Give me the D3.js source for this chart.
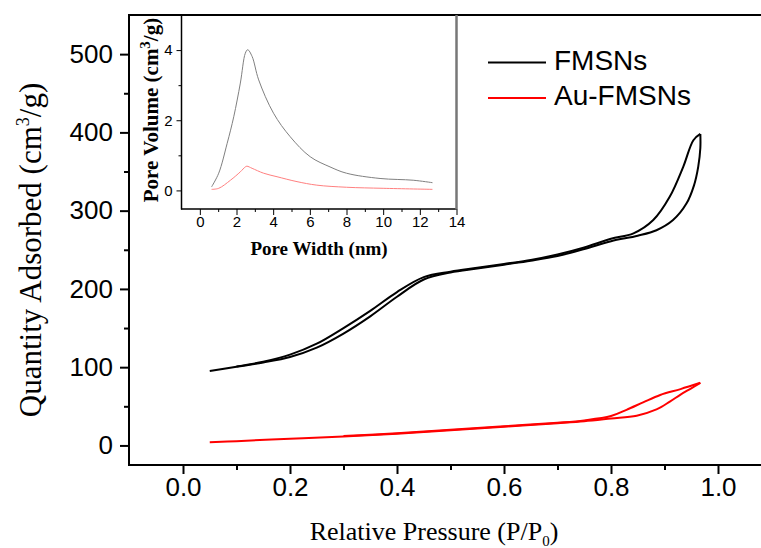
<!DOCTYPE html>
<html>
<head>
<meta charset="utf-8">
<script src="https://cdn.jsdelivr.net/npm/d3@7"></script>
<style>
  body { margin: 0; background: #fff; }
  svg { display: block; }
</style>
</head>
<body>
<svg id="chart" width="761" height="548"></svg>
<script>
// isotherm branches, [P/P0, quantity adsorbed cm3/g]
const fmsnAdsorption = [
  [0.05, 95], [0.10, 100.5], [0.15, 106], [0.20, 113], [0.25, 125], [0.30, 143],
  [0.35, 165], [0.40, 190], [0.45, 212], [0.50, 221], [0.55, 226], [0.60, 231],
  [0.65, 236], [0.70, 242], [0.75, 251], [0.80, 261], [0.85, 268], [0.885, 275],
  [0.916, 288], [0.941, 309], [0.955, 332], [0.963, 356], [0.967, 380], [0.967, 398]
];
const fmsnDesorption = [
  [0.967, 398], [0.954, 390], [0.935, 356], [0.91, 318], [0.879, 288], [0.842, 271],
  [0.80, 264], [0.75, 253], [0.70, 244], [0.65, 237], [0.60, 232], [0.55, 227],
  [0.50, 222], [0.45, 215], [0.40, 196], [0.35, 172], [0.30, 150], [0.25, 130],
  [0.20, 116], [0.15, 107], [0.10, 101]
];
const auAdsorption = [
  [0.05, 4], [0.10, 5.5], [0.20, 8.5], [0.30, 11.5], [0.40, 15], [0.50, 19.5],
  [0.60, 24], [0.70, 28.5], [0.75, 31], [0.80, 34.5], [0.848, 38], [0.885, 46],
  [0.91, 56], [0.93, 65], [0.95, 73], [0.967, 80]
];
const auDesorption = [
  [0.967, 80], [0.93, 72], [0.892, 64.5], [0.86, 55], [0.829, 45.5], [0.80, 37.5],
  [0.75, 32], [0.70, 29], [0.60, 24.5], [0.50, 20], [0.40, 15.5], [0.30, 12]
];

// pore size distribution (inset), [pore width nm, pore volume]
const fmsnPores = [
  [0.64, 0.10], [1.03, 0.49], [1.49, 1.34], [1.85, 2.1], [2.21, 3.06], [2.48, 3.91],
  [2.61, 4.01], [2.85, 3.82], [3.21, 3.15], [4.02, 2.2], [4.93, 1.53], [6.02, 0.96],
  [7.1, 0.67], [8.0, 0.49], [9.83, 0.34], [11.64, 0.29], [12.69, 0.22]
];
const auPores = [
  [0.64, 0.03], [1.03, 0.06], [1.67, 0.29], [2.21, 0.53], [2.48, 0.67], [2.57, 0.69],
  [2.85, 0.63], [3.48, 0.49], [4.21, 0.39], [5.3, 0.25], [6.38, 0.15], [8.0, 0.09],
  [10.0, 0.06], [12.69, 0.03]
];

const xMajor = [0, 0.2, 0.4, 0.6, 0.8, 1.0];
const xMinor = [0.1, 0.3, 0.5, 0.7, 0.9];
const yMajor = [0, 100, 200, 300, 400, 500];
const yMinor = [50, 150, 250, 350, 450];
const insetXMajor = [0, 2, 4, 6, 8, 10, 12, 14];
const insetXMinor = [1, 3, 5, 7, 9, 11, 13];
const insetYMajor = [0, 2, 4];
const insetYMinor = [1, 3];

const legendItems = [
  { label: "FMSNs", color: "#000" },
  { label: "Au-FMSNs", color: "#ff0000" }
];

const svg = d3.select("#chart");
const sans = "'Liberation Sans', Arial, sans-serif";
const serif = "'Liberation Serif', 'Times New Roman', serif";

const x = d3.scaleLinear().domain([-0.1, 1.1]).range([129.5, 771.5]);
const y = d3.scaleLinear().domain([-25, 550]).range([465, 15]);

// axes
function styleAxis(g, size) {
  g.select(".domain").remove();
  g.selectAll(".tick line").attr("stroke", "#000").attr("stroke-width", 2);
  g.selectAll(".tick text").attr("fill", "#000")
    .style("font-family", sans).style("font-size", size + "px");
}

svg.append("g").attr("transform", "translate(0,465)")
  .call(d3.axisBottom(x).tickValues(xMajor).tickFormat(d3.format(".1f")).tickSize(9).tickPadding(4))
  .call(g => styleAxis(g, 26));
svg.append("g").attr("transform", "translate(0,465)")
  .call(d3.axisBottom(x).tickValues(xMinor).tickFormat("").tickSize(5))
  .call(g => styleAxis(g, 26));
svg.append("g").attr("transform", "translate(129,0)")
  .call(d3.axisLeft(y).tickValues(yMajor).tickFormat(d3.format("d")).tickSize(9).tickPadding(7))
  .call(g => styleAxis(g, 26));
svg.append("g").attr("transform", "translate(129,0)")
  .call(d3.axisLeft(y).tickValues(yMinor).tickFormat("").tickSize(5))
  .call(g => styleAxis(g, 26));

// frame
const frame = svg.append("g").attr("stroke", "#000").attr("stroke-width", 2);
frame.append("line").attr("x1", 129).attr("x2", 129).attr("y1", 14).attr("y2", 466);
frame.append("line").attr("x1", 128).attr("x2", 761).attr("y1", 465).attr("y2", 465);
frame.append("line").attr("x1", 128).attr("x2", 761).attr("y1", 15).attr("y2", 15);

// isotherms
const line = d3.line()
  .x(d => x(d[0])).y(d => y(d[1]))
  .curve(d3.curveCatmullRom.alpha(0.5));

[[fmsnAdsorption, fmsnDesorption, "#000"], [auAdsorption, auDesorption, "#ff0000"]]
  .forEach(([ads, des, color]) => {
    [ads, des].forEach(branch => {
      svg.append("path")
        .attr("d", line(branch))
        .attr("fill", "none")
        .attr("stroke", color)
        .attr("stroke-width", 2);
    });
  });

// axis titles
svg.append("text")
  .attr("transform", "translate(41,250) rotate(-90)")
  .attr("text-anchor", "middle")
  .style("font-family", serif).style("font-size", "31px")
  .call(t => {
    t.append("tspan").text("Quantity Adsorbed (cm");
    t.append("tspan").attr("dy", -12).style("font-size", "18px").text("3");
    t.append("tspan").attr("dy", 12).text("/g)");
  });

svg.append("text")
  .attr("x", 434).attr("y", 540)
  .attr("text-anchor", "middle")
  .style("font-family", serif).style("font-size", "26px")
  .call(t => {
    t.append("tspan").text("Relative Pressure (P/P");
    t.append("tspan").attr("dy", 6).style("font-size", "15px").text("0");
    t.append("tspan").attr("dy", -6).text(")");
  });

// legend
const legend = svg.append("g");
legendItems.forEach((item, i) => {
  const ly = 62.5 + i * 35.5;
  legend.append("line")
    .attr("x1", 488).attr("x2", 546).attr("y1", ly).attr("y2", ly)
    .attr("stroke", item.color).attr("stroke-width", 2);
  legend.append("text")
    .attr("x", 554).attr("y", ly + 7)
    .style("font-family", sans).style("font-size", "28px")
    .text(item.label);
});

// inset: pore size distribution
const xi = d3.scaleLinear().domain([-1, 14]).range([181.5, 456.5]);
const yi = d3.scaleLinear().domain([-0.53, 5.0]).range([209, 15]);

svg.append("rect")
  .attr("x", 182).attr("y", 16).attr("width", 274).attr("height", 192)
  .attr("fill", "#fff");

function styleInset(g) {
  g.select(".domain").remove();
  g.selectAll(".tick line").attr("stroke", "#000").attr("stroke-width", 1);
  g.selectAll(".tick text").attr("fill", "#000")
    .style("font-family", sans).style("font-size", "15px");
}

svg.append("g").attr("transform", "translate(0,209)")
  .call(d3.axisBottom(xi).tickValues(insetXMajor).tickFormat(d3.format("d")).tickSize(6).tickPadding(1))
  .call(styleInset);
svg.append("g").attr("transform", "translate(0,209)")
  .call(d3.axisBottom(xi).tickValues(insetXMinor).tickFormat("").tickSize(3))
  .call(styleInset);
svg.append("g").attr("transform", "translate(181.5,0)")
  .call(d3.axisLeft(yi).tickValues(insetYMajor).tickFormat(d3.format("d")).tickSize(5).tickPadding(4))
  .call(styleInset);
svg.append("g").attr("transform", "translate(181.5,0)")
  .call(d3.axisLeft(yi).tickValues(insetYMinor).tickFormat("").tickSize(3))
  .call(styleInset);

svg.append("line").attr("x1", 181.5).attr("x2", 181.5).attr("y1", 15).attr("y2", 209.5)
  .attr("stroke", "#000").attr("stroke-width", 1.5);
svg.append("line").attr("x1", 181).attr("x2", 457).attr("y1", 209).attr("y2", 209)
  .attr("stroke", "#000").attr("stroke-width", 1.5);
svg.append("line").attr("x1", 456.5).attr("x2", 456.5).attr("y1", 15).attr("y2", 209.5)
  .attr("stroke", "#777").attr("stroke-width", 2.5);

const insetLine = d3.line()
  .x(d => xi(d[0])).y(d => yi(d[1]))
  .curve(d3.curveCatmullRom.alpha(0.5));

svg.append("path").attr("d", insetLine(fmsnPores))
  .attr("fill", "none").attr("stroke", "#808080").attr("stroke-width", 1);
svg.append("path").attr("d", insetLine(auPores))
  .attr("fill", "none").attr("stroke", "#ff8080").attr("stroke-width", 1);

svg.append("text")
  .attr("x", 319).attr("y", 255)
  .attr("text-anchor", "middle")
  .style("font-family", serif).style("font-size", "19px").style("font-weight", "bold")
  .text("Pore Width (nm)");

svg.append("text")
  .attr("transform", "translate(158,110) rotate(-90)")
  .attr("text-anchor", "middle")
  .style("font-family", serif).style("font-size", "21px").style("font-weight", "bold")
  .call(t => {
    t.append("tspan").text("Pore Volume (cm");
    t.append("tspan").attr("dy", -8).style("font-size", "15px").text("3");
    t.append("tspan").attr("dy", 8).text("/g)");
  });
</script>
</body>
</html>
